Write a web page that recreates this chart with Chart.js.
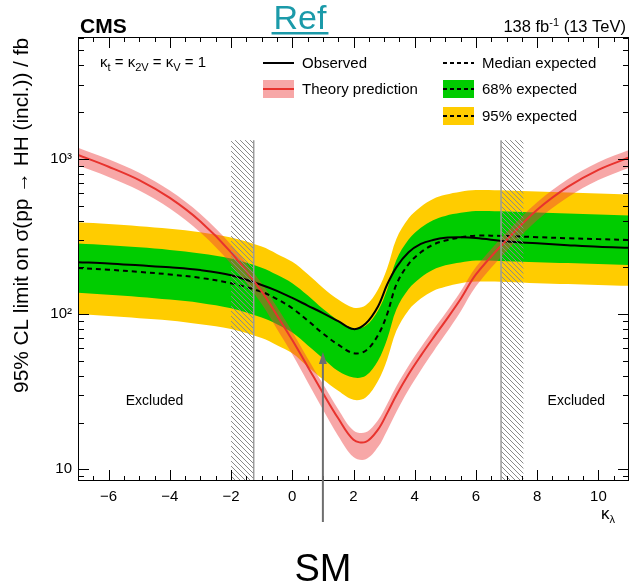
<!DOCTYPE html>
<html><head><meta charset="utf-8">
<script src="https://cdn.jsdelivr.net/npm/chart.js@4.4.1/dist/chart.umd.min.js"></script>
<style>html,body{margin:0;padding:0;background:#fff;}#wrap{width:629px;height:586px;position:relative;}</style>
</head><body><div id="wrap"><canvas id="c" width="629" height="586"></canvas></div>
<script>
const kappa = [-7,-6,-5,-4,-3,-2,-1,-0.5,0,0.5,1,1.5,2,2.4,2.8,3.1,3.4,3.8,4.2,4.6,5,5.5,6,7,8,9,10,11];
const observed = [216,212,206,200,192,178,154,141,127,113.5,101.5,90,80,87,112,155,200,250,283,300,310,312,309,294,286,278,271,267];
const expected = [198,193,187,180,171,158,139,125,109,91,75,63.5,56,58,73,100,155,210,250,280,298,312,320,318,313,308,304,300];
const band95Up = [390,380,368,355,337,311,272,244,217,181,148,124,110,114,144,197,305,414,492,552,587,615,630,626,617,607,599,591];
const band68Up = [285,278,269,259,246,228,199,179,158,132,108,91,81,84,105,144,223,302,360,403,429,449,461,458,451,444,438,432];
const band68Down = [137,133,129,124,118,109,95,86,76,63,52,43,39,40,50,69,107,145,172,193,206,215,221,219,216,213,210,207];
const band95Down = [100,97,94,91,86,80,70,63,56,46,38,32,28,29,37,51,78,106,126,141,150,158,162,161,158,156,154,152];
const theory = [1060,890,730,560,395,250,140,98,68,46,31,21.3,15.5,15.0,18,23,30,41,54,70,90,125,180,300,470,660,850,1020];
const theoryUp = [1180,995,815,625,442,280,158,111,77,52,35.5,24.4,17.8,17.3,20.7,26.3,34.2,46.5,61,79,101,140,201,336,526,739,952,1140];
const theoryDown = [910,765,625,478,335,210,116,80,55,36.5,24.3,16.4,12.0,11.6,13.9,17.8,23.4,32.5,43.5,57,74,104,151,255,402,566,730,877];
const xTickValues = [-6,-4,-2,0,2,4,6,8,10];
const yTickValues = [10,100,1000];
const yTickLabels = ['10','10\u00B2','10\u00B3'];
const excludedLeft = [-2.0,-1.26];
const excludedRight = [6.82,7.55];
const hatchTop = 1320;
const smKappa = 1;
const smArrowTip = 57;

const FONT = '"Liberation Sans", Arial, Helvetica, sans-serif';
const pts = arr => kappa.map((k,i)=>({x:k,y:arr[i]}));
const NONE = 'rgba(0,0,0,0)';
const TENSION = 0.35;
function bandDs(arr, color, fill, order){
  return {data:pts(arr), borderColor:NONE, borderWidth:0, backgroundColor:color||NONE, fill:fill, order:order, pointRadius:0, tension:TENSION};
}
function lineDs(arr, color, dash, order){
  return {data:pts(arr), borderColor:color, borderWidth:2, borderDash:dash||[], fill:false, order:order, pointRadius:0, tension:TENSION};
}
function drawParts(ctx, parts, x, y){
  let cx = x;
  for(const p of parts){
    ctx.font = (p.bold?'bold ':'') + p.size + 'px ' + FONT;
    ctx.fillText(p.t, cx, y + (p.dy||0));
    cx += ctx.measureText(p.t).width;
  }
  return cx - x;
}
function partsWidth(ctx, parts){
  let w = 0;
  for(const p of parts){ ctx.font = p.size+'px '+FONT; w += ctx.measureText(p.t).width; }
  return w;
}
function makeHatch(ctx){
  const s = 5;
  const c = document.createElement('canvas'); c.width = s; c.height = s;
  const g = c.getContext('2d');
  g.strokeStyle = '#8a8a8a'; g.lineWidth = 1;
  g.beginPath();
  for(const c0 of [-s,0,s]){ g.moveTo(0,c0); g.lineTo(s,s+c0); }
  g.stroke();
  return ctx.createPattern(c,'repeat');
}

const decor = {
  id:'decor',
  afterDatasetsDraw(chart){
    const {ctx, chartArea:a, scales:{x,y}} = chart;
    const yT = y.getPixelForValue(hatchTop);
    const pat = makeHatch(ctx);
    ctx.save();
    [[excludedLeft, excludedLeft[1]],[excludedRight, excludedRight[0]]].forEach(([r,edge])=>{
      const x1 = x.getPixelForValue(r[0]), x2 = x.getPixelForValue(r[1]);
      ctx.fillStyle = pat;
      ctx.fillRect(x1, yT, x2-x1, a.bottom-yT);
      const xe = x.getPixelForValue(edge);
      ctx.strokeStyle = '#9a9a9a'; ctx.lineWidth = 1.5;
      ctx.beginPath(); ctx.moveTo(xe,yT); ctx.lineTo(xe,a.bottom); ctx.stroke();
    });
    ctx.restore();
  },
  afterDraw(chart){
    const {ctx, chartArea:a, scales:{x,y}} = chart;
    ctx.save();
    ctx.strokeStyle = '#000'; ctx.lineWidth = 1;
    ctx.strokeRect(a.left+0.5, a.top+0.5, a.right-a.left-1, a.bottom-a.top-1);
    ctx.beginPath();
    for(let v=-7; v<=11.001; v+=0.5){
      const px = Math.round(x.getPixelForValue(v))+0.5;
      const major = Math.abs(v%2) < 1e-6;
      const L = major ? 11 : 5;
      ctx.moveTo(px, a.bottom); ctx.lineTo(px, a.bottom-L);
      ctx.moveTo(px, a.top); ctx.lineTo(px, a.top+L);
    }
    for(const d of [1,10,100,1000]){
      for(let m=1;m<=9;m++){
        const v = m*d;
        if(v < y.min || v > y.max) continue;
        const py = Math.round(y.getPixelForValue(v))+0.5;
        const L = m===1 ? 11 : 6;
        ctx.moveTo(a.left, py); ctx.lineTo(a.left+L, py);
        ctx.moveTo(a.right, py); ctx.lineTo(a.right-L, py);
      }
    }
    ctx.stroke();

    ctx.fillStyle = '#000';
    ctx.textBaseline = 'alphabetic';
    ctx.save();
    ctx.translate(28, a.top+1);
    ctx.rotate(-Math.PI/2);
    ctx.textAlign = 'right';
    ctx.font = '20.8px ' + FONT;
    ctx.fillText('95% CL limit on \u03C3(pp \u2192 HH (incl.)) / fb', 0, 0);
    ctx.restore();
    ctx.textAlign = 'left';
    drawParts(ctx, [{t:'\u03BA',size:17},{t:'\u03BB',size:11,dy:4}], a.right-28, a.bottom+38);
    drawParts(ctx, [{t:'CMS',size:21,bold:true}], 80, 33);
    const lumi = [{t:'138 fb',size:16.5},{t:'-1',size:11,dy:-6},{t:' (13 TeV)',size:16.5}];
    drawParts(ctx, lumi, 626 - partsWidth(ctx,lumi), 32);
    ctx.fillStyle = '#1b9aa9';
    ctx.font = '34px ' + FONT;
    const rw = ctx.measureText('Ref').width;
    ctx.textAlign = 'center';
    ctx.fillText('Ref', 300, 29);
    ctx.fillRect(300 - rw/2 - 2, 32, rw + 4, 2.5);
    ctx.textAlign = 'left';
    ctx.fillStyle = '#000';
    drawParts(ctx, [{t:'\u03BA',size:15},{t:'t',size:11,dy:4},{t:' = \u03BA',size:15},{t:'2V',size:11,dy:4},{t:' = \u03BA',size:15},{t:'V',size:11,dy:4},{t:' = 1',size:15}], a.left+22, a.top+30);
    const r1 = a.top+26, r2 = a.top+52, r3 = a.top+79;
    const c1 = a.left+185, c2 = a.left+365, sw = 31;
    ctx.lineWidth = 2;
    ctx.strokeStyle = '#000';
    ctx.beginPath(); ctx.moveTo(c1, r1); ctx.lineTo(c1+sw, r1); ctx.stroke();
    ctx.fillStyle = 'rgba(238,60,60,0.45)'; ctx.fillRect(c1, r2-9, sw, 18);
    ctx.strokeStyle = '#e8332e'; ctx.beginPath(); ctx.moveTo(c1, r2); ctx.lineTo(c1+sw, r2); ctx.stroke();
    ctx.fillStyle = '#00cc00'; ctx.fillRect(c2, r2-9, sw, 18);
    ctx.fillStyle = '#ffcc00'; ctx.fillRect(c2, r3-9, sw, 18);
    ctx.strokeStyle = '#000'; ctx.setLineDash([4,3]);
    for(const r of [r1,r2,r3]){ ctx.beginPath(); ctx.moveTo(c2, r); ctx.lineTo(c2+sw, r); ctx.stroke(); }
    ctx.setLineDash([]);
    ctx.fillStyle = '#000';
    ctx.font = '15px ' + FONT;
    ctx.textBaseline = 'middle';
    ctx.fillText('Observed', c1+39, r1+1);
    ctx.fillText('Theory prediction', c1+39, r2+1);
    ctx.fillText('Median expected', c2+39, r1+1);
    ctx.fillText('68% expected', c2+39, r2+1);
    ctx.fillText('95% expected', c2+39, r3+1);
    ctx.font = '14px ' + FONT;
    ctx.textAlign = 'center';
    ctx.fillText('Excluded', x.getPixelForValue(-4.5), y.getPixelForValue(27.5));
    ctx.fillText('Excluded', x.getPixelForValue(9.28), y.getPixelForValue(27.5));
    const sx = x.getPixelForValue(smKappa);
    const tip = y.getPixelForValue(smArrowTip);
    ctx.strokeStyle = '#6e6e6e'; ctx.fillStyle = '#6e6e6e'; ctx.lineWidth = 2;
    ctx.beginPath(); ctx.moveTo(sx, tip+8); ctx.lineTo(sx, a.bottom+41); ctx.stroke();
    ctx.beginPath(); ctx.moveTo(sx, tip); ctx.lineTo(sx-4, tip+12); ctx.lineTo(sx+4, tip+12); ctx.closePath(); ctx.fill();
    ctx.fillStyle = '#000';
    ctx.textBaseline = 'alphabetic';
    ctx.font = '38px ' + FONT;
    ctx.fillText('SM', sx, 581);
    ctx.restore();
  }
};

new Chart(document.getElementById('c'), {
  type:'line',
  data:{datasets:[
    lineDs(theory, '#e8332e', null, 0),
    lineDs(observed, '#000000', null, 1),
    lineDs(expected, '#000000', [5,4], 2),
    bandDs(theoryUp, 'rgba(238,60,60,0.45)', '+1', 3),
    bandDs(theoryDown, null, false, 3),
    bandDs(band68Up, '#00cc00', '+1', 4),
    bandDs(band68Down, null, false, 4),
    bandDs(band95Up, '#ffcc00', '+1', 5),
    bandDs(band95Down, null, false, 5)
  ]},
  options:{
    responsive:false, animation:false, devicePixelRatio:1,
    layout:{padding:{top:37,right:0,bottom:75,left:0}},
    plugins:{legend:{display:false}, tooltip:{enabled:false}, title:{display:false}},
    scales:{
      x:{type:'linear', min:-7, max:11,
        grid:{display:false, drawTicks:false}, border:{display:false},
        ticks:{font:{size:15, family:FONT}, color:'#000', padding:7, autoSkip:false, maxRotation:0,
          callback:v => v<0 ? '\u2212'+Math.abs(v) : String(v)},
        afterBuildTicks:s => { s.ticks = xTickValues.map(v=>({value:v})); },
        afterFit:s => { s.height = 30; }
      },
      y:{type:'logarithmic', min:8.4, max:6100,
        grid:{display:false, drawTicks:false}, border:{display:false},
        ticks:{font:{size:15, family:FONT}, color:'#000', padding:6, autoSkip:false,
          callback:v => { const i = yTickValues.indexOf(v); return i>=0 ? yTickLabels[i] : ''; }},
        afterBuildTicks:s => { s.ticks = yTickValues.map(v=>({value:v})); },
        afterFit:s => { s.width = 78; }
      }
    }
  },
  plugins:[decor]
});
</script>
</body></html>
